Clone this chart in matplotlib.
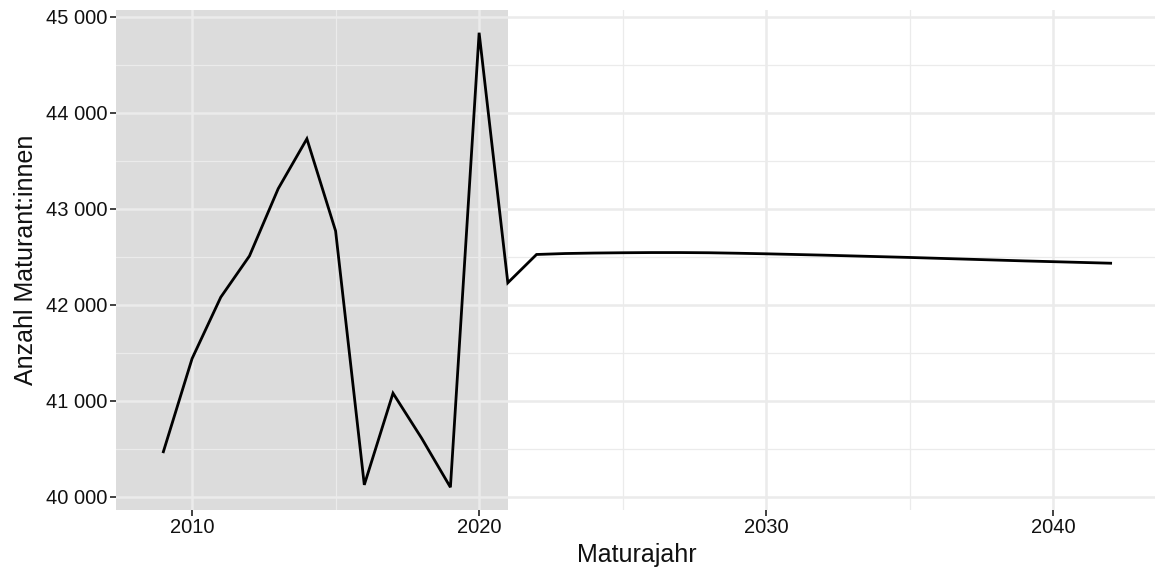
import matplotlib
matplotlib.use("Agg")
import matplotlib.pyplot as plt
from matplotlib.ticker import MultipleLocator, FuncFormatter

plt.rcParams['font.family'] = ['Liberation Sans', 'DejaVu Sans']

years = list(range(2009, 2043))
values = [40470, 41440, 42080, 42510, 43210, 43730, 42770, 40125, 41080, 40610,
          40100, 44835, 42230, 42525, 42535, 42540, 42543, 42545, 42545, 42543,
          42538, 42532, 42525, 42518, 42510, 42502, 42494, 42485, 42476, 42467,
          42458, 42450, 42442, 42434]
observed_end = 2021
x_label = "Maturajahr"
y_label = "Anzahl Maturant:innen"

fig = plt.figure(figsize=(11.55, 5.72), dpi=100)
ax = fig.add_axes([116/1155, 1 - 510/572, (1158 - 116)/1155, 500/572])

xr = max(years) - min(years)
xlo, xhi = min(years) - 0.05 * xr, max(years) + 0.05 * xr
yr = max(values) - min(values)
ylo, yhi = min(values) - 0.05 * yr, max(values) + 0.05 * yr
ax.set_xlim(xlo, xhi)
ax.set_ylim(ylo, yhi)

ax.axvspan(xlo, observed_end, color='#DCDCDC', zorder=0.2, lw=0)
ax.plot(years, values, color='black', lw=2.0, zorder=3, solid_joinstyle='miter')

ax.xaxis.set_major_locator(MultipleLocator(10))
ax.xaxis.set_minor_locator(MultipleLocator(5))
ax.yaxis.set_major_locator(MultipleLocator(1000))
ax.yaxis.set_minor_locator(MultipleLocator(500))
ax.yaxis.set_major_formatter(FuncFormatter(lambda v, p: f"{int(v):,}".replace(",", " ")))

ax.set_axisbelow(True)
ax.grid(which='major', color='#EBEBEB', lw=1.8, zorder=0.5)
ax.grid(which='minor', color='#EBEBEB', lw=0.9, zorder=0.5)
for s in ax.spines.values():
    s.set_visible(False)
ax.tick_params(which='major', length=4, width=1.3, color='#333333', labelsize=14.5,
               labelcolor='#111111', pad=2)
ax.tick_params(which='minor', length=0)

ax.set_xlabel(x_label, fontsize=18, color='#111111', labelpad=4)
ax.set_ylabel(y_label, fontsize=18, color='#111111', labelpad=6)

fig.savefig("out.png", dpi=100)
